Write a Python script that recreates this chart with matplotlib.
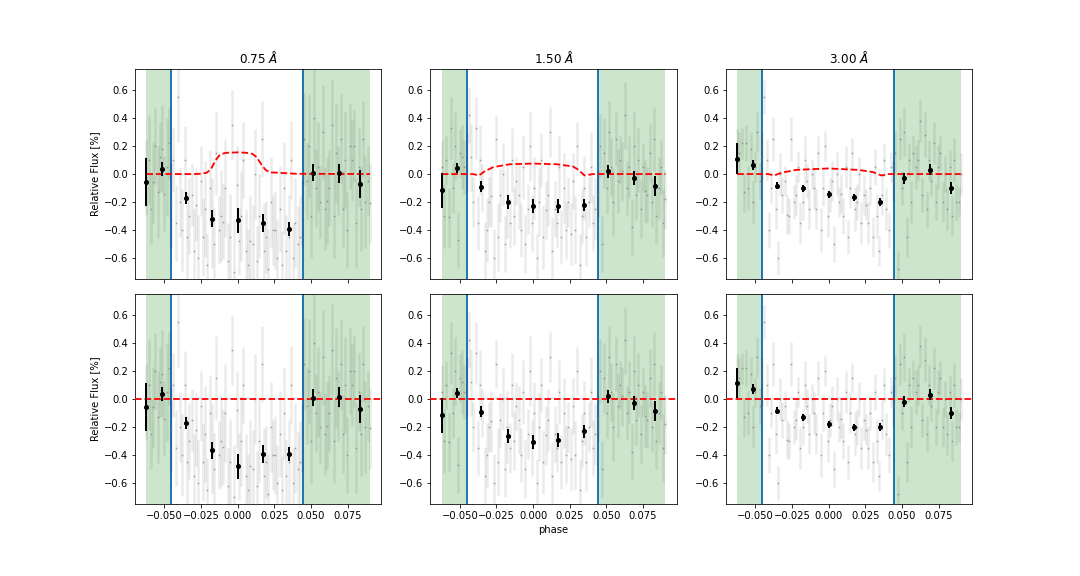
import numpy as np
import matplotlib
matplotlib.use("Agg")
from matplotlib import pyplot as plt

# phase grid of the unbinned points
phase_start = -0.0623
phase_stop = 0.0902
n_points = 100

transit_start = -0.0452
transit_stop = 0.0444

apertures = ["0.75", "1.50", "3.00"]

# unbinned light curves (same in both rows)
flux_075 = [
    -0.02, 0.10, -0.25, -0.06,
    0.20, -0.13, 0.12, 0.18, -0.14, 0.05, 0.22, -0.22,
    0.10, -0.35, 0.55, -0.20, -0.40, 0.10, -0.45, -0.30, -0.15, -0.55, -0.22,
    -0.60, -0.05, -0.45, -0.25, -0.65, -0.10, -0.35, -0.50, 0.15, -0.40, -0.30, -0.34,
    -0.10, -0.62, -0.45, 0.35, -0.70, -0.08, -0.48, -0.30, 0.10, -0.55, -0.65, -0.48,
    -0.50, 0.00, -0.62, -0.30, 0.25, -0.55, -0.45, -0.68, -0.20, -0.40, -0.40,
    -0.60, -0.25, -0.65, -0.10, -0.55, -0.45, 0.10, -0.60, -0.35, -0.50, -0.45, -0.28,
    0.25, -0.05, 0.20, -0.30, 0.40, -0.10, 0.05, -0.20, 0.30, -0.25, -0.19,
    -0.10, 0.35, -0.30, 0.15, -0.05, 0.25, -0.25, 0.10, -0.40, 0.20, 0.10,
    0.20, -0.35, 0.05, -0.25, 0.25, -0.20, -0.05, -0.21,
]
err_075 = [
    0.27, 0.32, 0.25, 0.29,
    0.27, 0.33, 0.25, 0.31, 0.27, 0.35, 0.26, 0.30,
    0.23, 0.27, 0.32, 0.25, 0.29, 0.24, 0.33, 0.27, 0.22, 0.30, 0.26,
    0.31, 0.25, 0.28, 0.34, 0.23, 0.27, 0.32, 0.26, 0.30, 0.24, 0.33, 0.27,
    0.35, 0.27, 0.31, 0.25, 0.37, 0.28, 0.24, 0.32, 0.27, 0.30, 0.26, 0.33,
    0.28, 0.32, 0.25, 0.30, 0.27, 0.34, 0.26, 0.29, 0.32, 0.25, 0.28,
    0.27, 0.31, 0.24, 0.33, 0.26, 0.30, 0.28, 0.25, 0.32, 0.27, 0.29, 0.24,
    0.33, 0.27, 0.37, 0.30, 0.35, 0.28, 0.32, 0.26, 0.34, 0.29, 0.31,
    0.27, 0.33, 0.30, 0.36, 0.25, 0.32, 0.28, 0.34, 0.27, 0.31, 0.29,
    0.26, 0.32, 0.28, 0.30, 0.27, 0.33, 0.25, 0.29,
]

flux_150 = [
    0.05, -0.30, 0.10, -0.31,
    0.33, -0.10, 0.20, -0.47, 0.15, 0.12, 0.05, 0.08,
    0.42, 0.12, -0.20, 0.33, -0.35, 0.10, -0.10, -0.55, -0.40, -0.20, -0.16,
    -0.60, 0.25, -0.45, -0.15, 0.00, -0.50, -0.20, -0.35, 0.10, -0.30, -0.05, -0.15,
    -0.40, 0.05, -0.50, -0.25, 0.20, -0.35, -0.10, -0.60, -0.20, 0.10, -0.45, -0.26,
    -0.15, 0.30, -0.55, -0.25, -0.35, 0.05, -0.45, -0.10, -0.40, -0.20, -0.43,
    -0.05, -0.40, 0.20, -0.65, -0.30, -0.10, -0.45, -0.20, 0.05, -0.35, -0.25, -0.14,
    0.20, -0.50, 0.15, -0.10, 0.30, 0.05, -0.20, 0.25, -0.05, 0.10, 0.02,
    0.42, -0.10, 0.05, -0.38, 0.20, -0.15, 0.10, -0.25, 0.05, -0.12, -0.15,
    0.15, -0.20, 0.25, -0.30, -0.10, 0.05, -0.35, -0.18,
]
err_150 = [
    0.19, 0.23, 0.17, 0.21,
    0.22, 0.18, 0.24, 0.20, 0.17, 0.23, 0.19, 0.21,
    0.20, 0.24, 0.18, 0.22, 0.19, 0.25, 0.17, 0.21, 0.23, 0.18, 0.22,
    0.21, 0.17, 0.24, 0.19, 0.22, 0.20, 0.26, 0.18, 0.23, 0.21, 0.17, 0.24,
    0.19, 0.23, 0.21, 0.18, 0.25, 0.20, 0.22, 0.17, 0.24, 0.19, 0.23, 0.21,
    0.22, 0.18, 0.24, 0.20, 0.17, 0.23, 0.19, 0.25, 0.21, 0.18, 0.22,
    0.20, 0.24, 0.17, 0.22, 0.19, 0.23, 0.21, 0.18, 0.25, 0.20, 0.22, 0.17,
    0.23, 0.20, 0.25, 0.18, 0.22, 0.21, 0.24, 0.19, 0.23, 0.17, 0.21,
    0.24, 0.19, 0.22, 0.20, 0.25, 0.18, 0.23, 0.21, 0.17, 0.22, 0.20,
    0.21, 0.18, 0.23, 0.20, 0.22, 0.19, 0.24, 0.21,
]

flux_300 = [
    0.20, 0.15, 0.22, -0.13,
    0.22, -0.10, 0.18, -0.20, 0.05, 0.30, -0.05, 0.12,
    0.55, 0.10, -0.40, -0.10, 0.25, -0.25, -0.60, 0.00, -0.15, -0.05, -0.29,
    -0.30, 0.25, -0.20, -0.15, 0.05, -0.35, -0.20, 0.10, -0.05, -0.25, 0.00, -0.10,
    -0.25, 0.15, -0.40, -0.10, 0.20, -0.30, -0.15, -0.05, -0.50, 0.00, -0.20, -0.14,
    -0.30, 0.05, -0.45, -0.10, 0.15, -0.25, -0.20, 0.00, -0.35, -0.15, -0.22,
    -0.35, -0.10, -0.45, 0.05, -0.30, -0.55, -0.15, 0.10, -0.25, -0.40, 0.05, -0.05,
    0.15, -0.68, 0.25, -0.10, 0.30, -0.45, 0.10, -0.20, 0.15, 0.05, 0.10,
    0.38, -0.15, 0.28, -0.25, 0.10, -0.05, 0.22, -0.20, 0.05, 0.15, -0.20,
    0.00, -0.25, 0.05, -0.30, 0.10, -0.20, -0.20, 0.00,
]
err_300 = [
    0.12, 0.15, 0.11, 0.14,
    0.13, 0.16, 0.12, 0.15, 0.11, 0.14, 0.13, 0.17,
    0.12, 0.15, 0.13, 0.11, 0.16, 0.14, 0.12, 0.15, 0.13, 0.11, 0.14,
    0.13, 0.16, 0.12, 0.14, 0.11, 0.15, 0.13, 0.17, 0.12, 0.14, 0.11, 0.15,
    0.14, 0.12, 0.16, 0.13, 0.11, 0.15, 0.12, 0.14, 0.13, 0.16, 0.11, 0.14,
    0.13, 0.15, 0.12, 0.14, 0.11, 0.16, 0.13, 0.12, 0.15, 0.14, 0.11,
    0.15, 0.12, 0.14, 0.13, 0.16, 0.11, 0.14, 0.12, 0.15, 0.13, 0.11, 0.14,
    0.16, 0.13, 0.15, 0.12, 0.17, 0.14, 0.12, 0.15, 0.13, 0.16, 0.14,
    0.15, 0.12, 0.16, 0.13, 0.14, 0.11, 0.15, 0.13, 0.16, 0.12, 0.14,
    0.13, 0.15, 0.12, 0.14, 0.16, 0.13, 0.11, 0.15,
]

# binned points
bin_phase = [-0.0624, -0.0517, -0.0352, -0.0173, 0.0, 0.0172, 0.0349, 0.0512, 0.0689, 0.0832]

bin_top_075 = [-0.055, 0.035, -0.17, -0.32, -0.33, -0.35, -0.39, 0.01, 0.005, -0.07]
bin_bot_075 = [-0.055, 0.035, -0.17, -0.365, -0.48, -0.39, -0.39, 0.01, 0.015, -0.07]
bin_err_075 = [0.17, 0.05, 0.045, 0.06, 0.09, 0.065, 0.05, 0.06, 0.07, 0.10]

bin_top_150 = [-0.115, 0.045, -0.09, -0.20, -0.23, -0.23, -0.22, 0.02, -0.03, -0.085]
bin_bot_150 = [-0.115, 0.045, -0.09, -0.265, -0.31, -0.295, -0.23, 0.02, -0.03, -0.085]
bin_err_150 = [0.125, 0.035, 0.04, 0.05, 0.05, 0.05, 0.045, 0.045, 0.05, 0.07]

bin_top_300 = [0.11, 0.065, -0.085, -0.10, -0.145, -0.165, -0.20, -0.03, 0.03, -0.10]
bin_bot_300 = [0.115, 0.07, -0.085, -0.13, -0.18, -0.20, -0.20, -0.02, 0.03, -0.10]
bin_err_300 = [0.11, 0.035, 0.025, 0.025, 0.025, 0.025, 0.03, 0.04, 0.04, 0.045]

# transit models (top row)
model_075_x = [-0.0623, -0.030, -0.025, -0.021, -0.018, -0.015, -0.012, -0.008, 0.0,
               0.006, 0.010, 0.013, 0.016, 0.019, 0.022, 0.030, 0.040, 0.0902]
model_075_y = [0.0, 0.0, 0.002, 0.01, 0.04, 0.10, 0.14, 0.152, 0.155,
               0.152, 0.145, 0.12, 0.07, 0.03, 0.012, 0.008, 0.002, 0.0]

model_150_x = [-0.0623, -0.041, -0.037, -0.033, -0.027, -0.016, 0.0, 0.016, 0.027,
               0.031, 0.035, 0.041, 0.0902]
model_150_y = [0.0, 0.0, -0.01, 0.02, 0.05, 0.07, 0.075, 0.07, 0.055,
               0.03, -0.01, 0.0, 0.0]

model_300_x = [-0.0623, -0.041, -0.037, -0.032, -0.022, 0.0, 0.020, 0.030,
               0.036, 0.041, 0.0902]
model_300_y = [0.0, 0.0, -0.01, 0.01, 0.03, 0.04, 0.03, 0.015,
               -0.01, 0.0, 0.0]

flux = [flux_075, flux_150, flux_300]
errs = [err_075, err_150, err_300]
bins_top = [bin_top_075, bin_top_150, bin_top_300]
bins_bot = [bin_bot_075, bin_bot_150, bin_bot_300]
bin_errs = [bin_err_075, bin_err_150, bin_err_300]
models = [(model_075_x, model_075_y), (model_150_x, model_150_y), (model_300_x, model_300_y)]

phase = np.linspace(phase_start, phase_stop, n_points)

fig, axes = plt.subplots(2, 3, figsize=(15, 8), dpi=72, sharex=True)
fig.subplots_adjust(bottom=0.125, top=0.88, hspace=0.072)

for col in range(3):
    for row in range(2):
        ax = axes[row, col]
        ax.axvspan(phase_start, transit_start, color="green", alpha=0.2, lw=0)
        ax.axvspan(transit_stop, phase_stop, color="green", alpha=0.2, lw=0)
        ax.axvline(transit_start, color="C0", lw=2)
        ax.axvline(transit_stop, color="C0", lw=2)

        ax.errorbar(phase, flux[col], yerr=errs[col], fmt="none", ecolor="k",
                    alpha=0.08, elinewidth=2.5)
        ax.plot(phase, flux[col], ".", color="grey", ms=2, alpha=0.5)

        if row == 0:
            mx, my = models[col]
            ax.plot(mx, my, "r--", lw=1.8, zorder=4)
            by = bins_top[col]
            ax.set_title(apertures[col] + r" $\AA$", fontsize=12)
        else:
            ax.axhline(0, color="r", ls="--", lw=1.8, zorder=4)
            by = bins_bot[col]

        ax.errorbar(bin_phase, by, yerr=bin_errs[col], fmt="o", color="k",
                    ms=4, elinewidth=2, zorder=5)
        ax.set_ylim(-0.75, 0.75)

        if col == 0:
            ax.set_ylabel("Relative Flux [%]")

axes[1, 1].set_xlabel("phase")

fig.savefig("out.png", dpi=72)
